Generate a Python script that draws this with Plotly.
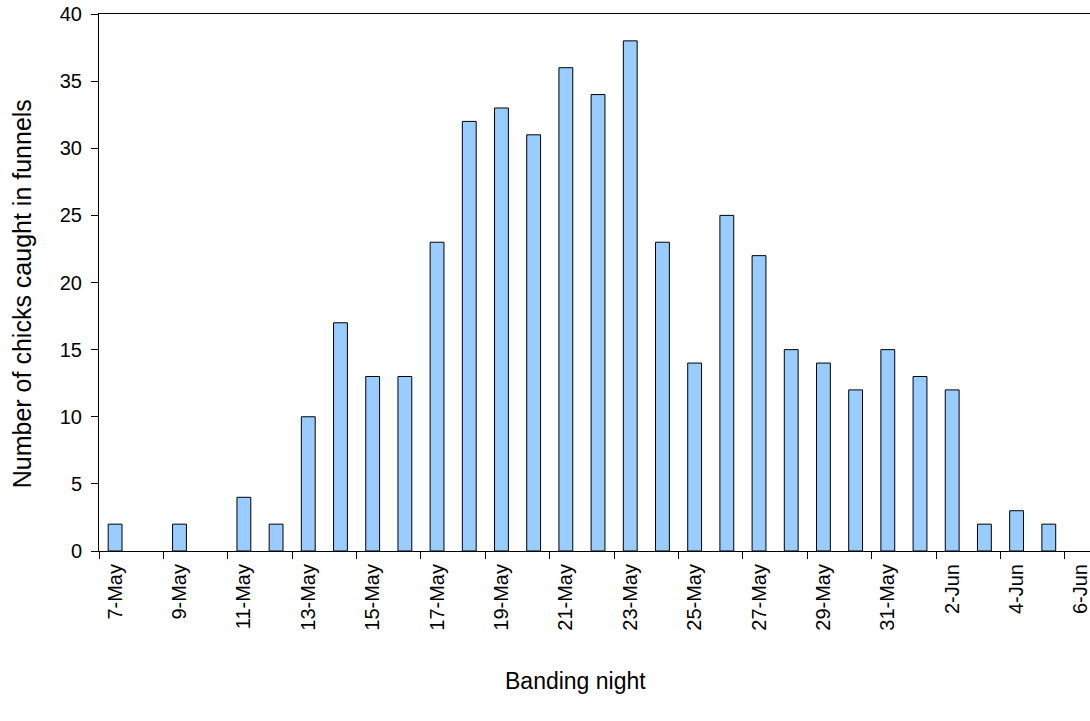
import plotly.graph_objects as go

dates = ["7-May", "8-May", "9-May", "10-May", "11-May", "12-May", "13-May", "14-May",
         "15-May", "16-May", "17-May", "18-May", "19-May", "20-May", "21-May", "22-May",
         "23-May", "24-May", "25-May", "26-May", "27-May", "28-May", "29-May", "30-May",
         "31-May", "1-Jun", "2-Jun", "3-Jun", "4-Jun", "5-Jun", "6-Jun"]
chicks = [2, 0, 2, 0, 4, 2, 10, 17, 13, 13, 23, 32, 33, 31, 36, 34, 38, 23, 14, 25,
          22, 15, 14, 12, 15, 13, 12, 2, 3, 2, 0]

font = "Liberation Sans, Arial, sans-serif"
edge_widths = [1 if v > 0 else 0 for v in chicks]

fig = go.Figure(go.Bar(
    x=dates, y=chicks, width=0.43,
    marker=dict(color="#99CCFF", line=dict(color="black", width=edge_widths)),
))

fig.update_layout(
    width=1090, height=721,
    margin=dict(l=99, r=0, t=14, b=170, autoexpand=False),
    plot_bgcolor="white", paper_bgcolor="white",
    showlegend=False,
    font=dict(family=font, size=20, color="black"),
    annotations=[
        dict(text="Banding night", xref="paper", yref="paper", x=0.481, y=-0.242,
             xanchor="center", yanchor="middle", showarrow=False,
             font=dict(size=23, family=font, color="black")),
        dict(text="Number of chicks caught in funnels", xref="paper", yref="paper",
             x=-0.0777, y=0.48, xanchor="center", yanchor="middle", textangle=-90,
             showarrow=False, font=dict(size=25, family=font, color="black")),
    ],
)
fig.update_xaxes(
    type="category", range=[-0.5, 30.28], automargin=False,
    tickmode="linear", tick0=0, dtick=2,
    tickson="boundaries", ticks="outside", ticklen=7, tickcolor="black",
    tickangle=-90, tickfont=dict(size=20), ticklabeloverflow="allow",
    ticklabelstandoff=4,
    showline=True, linecolor="black", linewidth=1, mirror=True,
    showgrid=False,
)
fig.update_yaxes(
    range=[0, 40], tickmode="linear", tick0=0, dtick=5, automargin=False,
    ticks="outside", ticklen=7, tickcolor="black", ticklabeloverflow="allow",
    ticklabelstandoff=5,
    showline=True, linecolor="black", linewidth=1,
    showgrid=False, zeroline=False, tickfont=dict(size=20),
)

fig.write_html("out.html", config={"displayModeBar": False},
               post_script="document.body.style.margin='0';")
